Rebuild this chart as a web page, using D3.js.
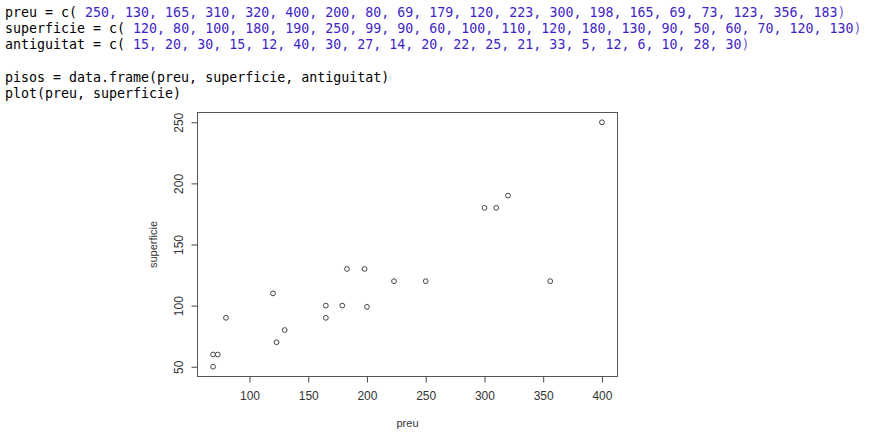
<!DOCTYPE html>
<html><head><meta charset="utf-8">
<script src="https://cdn.jsdelivr.net/npm/d3@7"></script>
<style>html,body{margin:0;padding:0;background:#fff;}svg{display:block;}</style>
</head><body>
<svg id="c" width="879" height="438"></svg>
<script>
const preu = [250, 130, 165, 310, 320, 400, 200, 80, 69, 179, 120, 223, 300, 198, 165, 69, 73, 123, 356, 183];
const superficie = [120, 80, 100, 180, 190, 250, 99, 90, 60, 100, 110, 120, 180, 130, 90, 50, 60, 70, 120, 130];
const antiguitat = [15, 20, 30, 15, 12, 40, 30, 27, 14, 20, 22, 25, 21, 33, 5, 12, 6, 10, 28, 30];
const xTicks = [100, 150, 200, 250, 300, 350, 400];
const yTicks = [50, 100, 150, 200, 250];

const svg = d3.select("#c");
const mono = "'DejaVu Sans Mono', 'Liberation Mono', monospace";
const numCol = "#3f1fc6", parCol = "#7b5ed2";

// code lines
function codeLine(y, name, arr) {
  const t = svg.append("text").attr("x", 5).attr("y", y)
    .attr("font-family", mono).attr("font-size", 13.3).attr("xml:space", "preserve");
  t.append("tspan").attr("fill", "#000").text(name + " = c( ");
  t.append("tspan").attr("fill", numCol).text(arr.join(", "));
  t.append("tspan").attr("fill", parCol).text(")");
}
codeLine(17, "preu", preu);
codeLine(33, "superficie", superficie);
codeLine(49, "antiguitat", antiguitat);
svg.append("text").attr("x", 5).attr("y", 82).attr("font-family", mono).attr("font-size", 13.3)
  .attr("fill", "#000").text("pisos = data.frame(preu, superficie, antiguitat)");
svg.append("text").attr("x", 5).attr("y", 98).attr("font-family", mono).attr("font-size", 13.3)
  .attr("fill", "#000").text("plot(preu, superficie)");

// plot region
const L = 197.5, R = 617.5, T = 112.5, B = 376.5;
const xr = d3.extent(preu), yr = d3.extent(superficie);
const xe = (xr[1] - xr[0]) * 0.04, ye = (yr[1] - yr[0]) * 0.04;
const x = d3.scaleLinear().domain([xr[0] - xe, xr[1] + xe]).range([L, R]);
const y = d3.scaleLinear().domain([yr[0] - ye, yr[1] + ye]).range([B, T]);

const sans = "'Liberation Sans', Arial, sans-serif";
const axCol = "#444";

// x axis
const gx = svg.append("g").attr("transform", `translate(0,${B})`)
  .call(d3.axisBottom(x).tickValues(xTicks).tickSize(6).tickPadding(9).tickSizeOuter(0));
gx.select(".domain").attr("stroke", axCol).attr("d", `M${x(xTicks[0])},0H${x(xTicks[xTicks.length-1])}`);
gx.selectAll(".tick line").attr("stroke", axCol);
gx.selectAll(".tick text").attr("font-family", sans).attr("font-size", 12).attr("fill", "#333");

// y axis
const gy = svg.append("g").attr("transform", `translate(${L},0)`)
  .call(d3.axisLeft(y).tickValues(yTicks).tickSize(6).tickSizeOuter(0));
gy.select(".domain").attr("stroke", axCol).attr("d", `M0,${y(yTicks[0])}V${y(yTicks[yTicks.length-1])}`);
gy.selectAll(".tick line").attr("stroke", axCol);
gy.selectAll(".tick text").attr("font-family", sans).attr("font-size", 12).attr("fill", "#333")
  .attr("transform", "rotate(-90)").attr("x", 0).attr("y", -15).attr("dy", 0)
  .attr("text-anchor", "middle");

// box
svg.append("rect").attr("x", L).attr("y", T).attr("width", R - L).attr("height", B - T)
  .attr("fill", "none").attr("stroke", "#555").attr("stroke-width", 1);

// points
svg.append("g").selectAll("circle").data(preu.map((p, i) => [p, superficie[i]])).join("circle")
  .attr("cx", d => x(d[0])).attr("cy", d => y(d[1])).attr("r", 2.4)
  .attr("fill", "none").attr("stroke", "#444").attr("stroke-width", 1);

// axis titles
svg.append("text").attr("x", (L + R) / 2).attr("y", 427).attr("text-anchor", "middle")
  .attr("font-family", sans).attr("font-size", 11).attr("fill", "#333").text("preu");
svg.append("text").attr("transform", `translate(157,${(T + B) / 2}) rotate(-90)`).attr("text-anchor", "middle")
  .attr("font-family", sans).attr("font-size", 11).attr("fill", "#333").text("superficie");
</script>
</body></html>
